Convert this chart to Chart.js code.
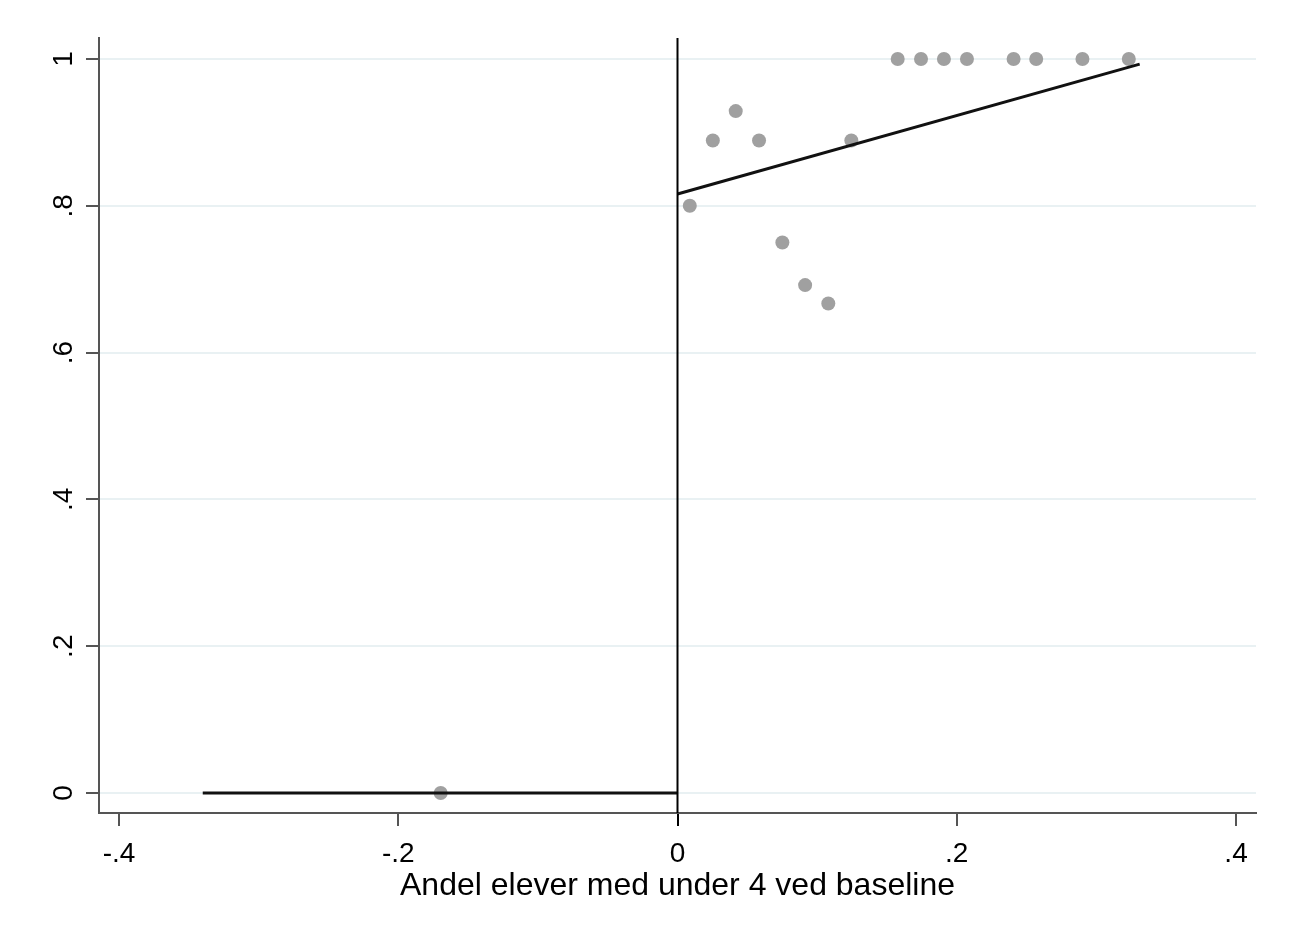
<!DOCTYPE html>
<html>
<head>
<meta charset="utf-8">
<script src="https://cdn.jsdelivr.net/npm/chart.js@4/dist/chart.umd.min.js"></script>
<style>
  html, body { margin: 0; padding: 0; background: #ffffff; }
  #wrap { width: 1290px; height: 934px; position: relative; }
</style>
</head>
<body>
<div id="wrap"><canvas id="c" width="1290" height="934"></canvas></div>
<script>
// Binned share of pupils (x) against outcome share (y)
const binX = [-0.1696, 0.0088, 0.0253, 0.0417, 0.0584, 0.0751, 0.0914, 0.1080, 0.1245,
              0.1577, 0.1744, 0.1908, 0.2073, 0.2407, 0.2569, 0.2900, 0.3232];
const binY = [0, 0.800, 0.889, 0.929, 0.889, 0.750, 0.692, 0.667, 0.889,
              1, 1, 1, 1, 1, 1, 1, 1];

// Linear fits on each side of the cutoff
const fitLeftX = [-0.340, 0];
const fitLeftY = [0, 0];
const fitRightX = [0, 0.331];
const fitRightY = [0.816, 0.993];

// Cutoff
const cutoffX = 0;

// Axis ticks and labels
const xTicks = [-0.4, -0.2, 0, 0.2, 0.4];
const xTickLabels = ['-.4', '-.2', '0', '.2', '.4'];
const yTicks = [0, 0.2, 0.4, 0.6, 0.8, 1];
const yTickLabels = ['0', '.2', '.4', '.6', '.8', '1'];
const xTitle = 'Andel elever med under 4 ved baseline';

const xMin = -0.4143, xMax = 0.4143;
const yMin = -0.0272, yMax = 1.0286;

const FONT = '"Liberation Sans", Arial, sans-serif';
const AXIS = '#555555';

const toPoints = (xs, ys) => xs.map((x, i) => ({ x: x, y: ys[i] }));

// Rotated y-axis tick labels (read bottom to top)
const rotatedYLabels = {
  id: 'rotatedYLabels',
  afterDraw(chart) {
    const ys = chart.scales.y;
    const ctx = chart.ctx;
    ctx.save();
    ctx.fillStyle = '#000';
    ctx.font = '28px ' + FONT;
    ctx.textAlign = 'center';
    ctx.textBaseline = 'middle';
    yTicks.forEach((v, i) => {
      const py = ys.getPixelForValue(v);
      ctx.save();
      ctx.translate(64, py);
      ctx.rotate(-Math.PI / 2);
      ctx.fillText(yTickLabels[i], 0, 0);
      ctx.restore();
    });
    ctx.restore();
  }
};

const whiteBg = {
  id: 'whiteBg',
  beforeDraw(chart) {
    const ctx = chart.ctx;
    ctx.save();
    ctx.fillStyle = '#ffffff';
    ctx.fillRect(0, 0, chart.width, chart.height);
    ctx.restore();
  }
};

new Chart(document.getElementById('c'), {
  type: 'scatter',
  data: {
    datasets: [
      {
        label: 'cutoff',
        type: 'line',
        data: [{ x: cutoffX, y: yMin }, { x: cutoffX, y: yMax }],
        borderColor: '#000000',
        borderWidth: 2,
        pointRadius: 0,
        fill: false,
        order: 0
      },
      {
        label: 'fit left',
        type: 'line',
        data: toPoints(fitLeftX, fitLeftY),
        borderColor: '#111111',
        borderWidth: 3,
        pointRadius: 0,
        fill: false,
        order: 0
      },
      {
        label: 'fit right',
        type: 'line',
        data: toPoints(fitRightX, fitRightY),
        borderColor: '#111111',
        borderWidth: 3,
        pointRadius: 0,
        fill: false,
        order: 0
      },
      {
        label: 'bins',
        data: toPoints(binX, binY),
        backgroundColor: '#a0a0a0',
        borderColor: '#a0a0a0',
        borderWidth: 0,
        pointRadius: 7,
        pointHoverRadius: 7,
        order: 1
      }
    ]
  },
  options: {
    responsive: false,
    animation: false,
    events: [],
    layout: { padding: { top: 38, right: 34, left: 0, bottom: 0 } },
    plugins: {
      legend: { display: false },
      tooltip: { enabled: false },
      title: { display: false }
    },
    scales: {
      x: {
        type: 'linear',
        min: xMin,
        max: xMax,
        afterBuildTicks(scale) { scale.ticks = xTicks.map(v => ({ value: v })); },
        afterFit(scale) { scale.height = 121; },
        ticks: {
          autoSkip: false,
          maxRotation: 0,
          minRotation: 0,
          padding: 11,
          color: '#000',
          font: { family: FONT, size: 28 },
          callback: (v) => {
            const i = xTicks.findIndex(t => Math.abs(t - v) < 1e-9);
            return i >= 0 ? xTickLabels[i] : '';
          }
        },
        grid: {
          drawOnChartArea: false,
          drawTicks: true,
          tickLength: 13,
          tickWidth: 2,
          tickColor: (ctx) => (ctx.tick && ctx.tick.value === 0 ? '#000' : AXIS),
          lineWidth: 2
        },
        border: { display: true, color: AXIS, width: 2 },
        title: {
          display: true,
          text: xTitle,
          color: '#000',
          font: { family: FONT, size: 32 },
          padding: { top: 0, bottom: 29 }
        }
      },
      y: {
        type: 'linear',
        min: yMin,
        max: yMax,
        afterBuildTicks(scale) { scale.ticks = yTicks.map(v => ({ value: v })); },
        afterFit(scale) { scale.width = 99; },
        ticks: { display: false },
        grid: {
          drawOnChartArea: true,
          drawTicks: true,
          tickLength: 13,
          color: '#e9f1f3',
          lineWidth: 2,
          tickColor: AXIS,
          tickWidth: 2
        },
        border: { display: true, color: AXIS, width: 2 }
      }
    }
  },
  plugins: [whiteBg, rotatedYLabels]
});
</script>
</body>
</html>
